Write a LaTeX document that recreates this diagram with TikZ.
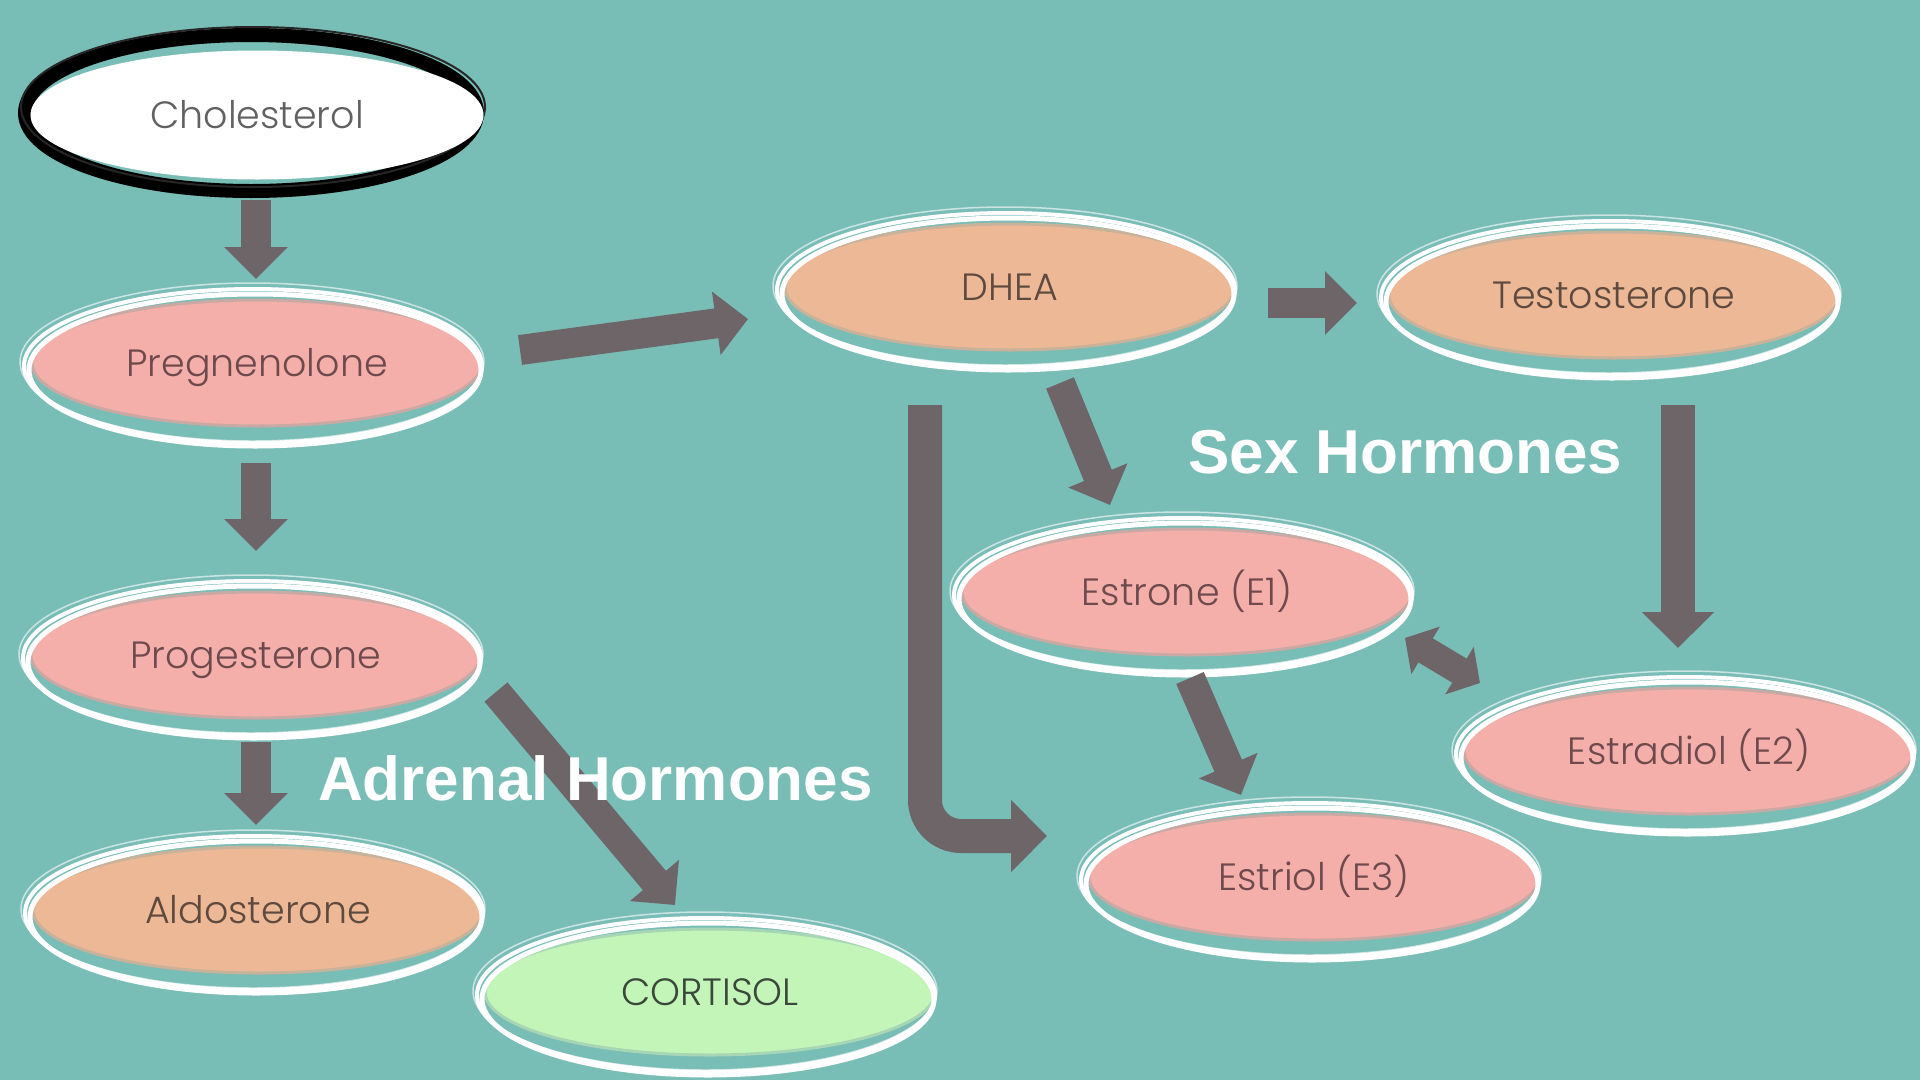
\documentclass[tikz,border=0pt]{standalone}
\usepackage{fontspec}
\IfFontExistsTF{Poppins Light}{\setmainfont{Poppins Light}}{\setmainfont{Poppins}}
\newfontfamily\titlefont{Liberation Sans}
\usetikzlibrary{arrows.meta,shapes.geometric}
\definecolor{bgteal}{HTML}{79BDB7}
\definecolor{pinkfill}{HTML}{F4AFAA}
\definecolor{pinkedge}{HTML}{C9A9A4}
\definecolor{pinktext}{HTML}{6E4A4D}
\definecolor{peachfill}{HTML}{EDB896}
\definecolor{peachedge}{HTML}{C8B29A}
\definecolor{peachtext}{HTML}{5E4A3F}
\definecolor{greenfill}{HTML}{C3F5B8}
\definecolor{greenedge}{HTML}{A6D6B4}
\definecolor{greentext}{HTML}{3A483A}
\definecolor{arrowgray}{HTML}{6D6567}
\pgfdeclarelayer{bg}
\pgfsetlayers{bg,main}
\tikzset{
  hnode/.style={ellipse, minimum width=450pt, minimum height=126pt, inner sep=0pt, outer sep=0pt,
    line width=3pt, text height=27pt, text depth=0pt, font=\fontsize{38}{40}\selectfont},
  pinknode/.style={hnode, fill=pinkfill, draw=pinkedge, text=pinktext},
  peachnode/.style={hnode, fill=peachfill, draw=peachedge, text=peachtext},
  greennode/.style={hnode, fill=greenfill, draw=greenedge, text=greentext},
  whitenode/.style={hnode, fill=white, draw=white, text=black!62},
  blk/.style={draw=arrowgray, line width=30pt, -{Triangle[width=62pt,length=32pt]}},
  wideblk/.style={draw=arrowgray, line width=34pt, -{Triangle[width=70pt,length=36pt]}},
  dblblk/.style={draw=arrowgray, line width=28pt, {Triangle[width=54pt,length=24pt]}-{Triangle[width=54pt,length=24pt]}},
  titlelbl/.style={font=\titlefont\bfseries\fontsize{62}{64}\selectfont, text=white, inner sep=0pt, anchor=base west},
}
\newcommand\wring[1]{%
  \draw[white, line width=4pt] ([shift={(-4,3)}]#1.center) ellipse [x radius=229pt, y radius=77pt];
  \draw[white, line width=5pt] ([shift={(-2,7)}]#1.center) ellipse [x radius=226pt, y radius=76pt];
  \draw[white, line width=1.5pt, opacity=0.6] ([shift={(-5,-1)}]#1.center) ellipse [x radius=232pt, y radius=79pt];
}
\begin{document}
\begin{tikzpicture}[x=1pt,y=-1pt]
\begin{pgfonlayer}{bg}
  \fill[bgteal] (0,0) rectangle (1920,1080);
\end{pgfonlayer}
\useasboundingbox (0,0) rectangle (1920,1080);

% nodes
\node[whitenode] (chol) at (257,115) {Cholesterol};
\node[pinknode] (preg) at (257,363) {Pregnenolone};
\node[pinknode] (prog) at (256,655) {Progesterone};
\node[peachnode] (aldo) at (258,910) {Aldosterone};
\node[greennode] (cort) at (710,992) {CORTISOL};
\node[peachnode] (dhea) at (1010,287) {DHEA};
\node[peachnode] (test) at (1614,295) {Testosterone};
\node[pinknode] (estrone) at (1187,592) {Estrone (E1)};
\node[pinknode] (estriol) at (1314,877) {Estriol (E3)};
\node[pinknode] (estradiol) at (1689,751) {Estradiol (E2)};

% black brush ring round Cholesterol (behind its fill)
\begin{pgfonlayer}{bg}
  \draw[black, line width=14pt] ([shift={(-6,-2)}]chol.center) ellipse [x radius=226pt, y radius=78pt];
  \draw[black!85, line width=2pt] ([shift={(-4,-8)}]chol.center) ellipse [x radius=232pt, y radius=80pt];
\end{pgfonlayer}

% white brush rings
\wring{preg}
\wring{prog}
\wring{aldo}
\wring{cort}
\wring{dhea}
\wring{test}
\wring{estrone}
\wring{estriol}
\wring{estradiol}

% connectors
\draw[blk] ([shift={(-1,85)}]chol.center) -- ([shift={(-1,-84)}]preg.center);
\draw[blk] ([shift={(-1,100)}]preg.center) -- ([shift={(0,-104)}]prog.center);
\draw[blk] ([shift={(0,87)}]prog.center) -- ([shift={(-2,-85)}]aldo.center);
\draw[blk] ([shift={(240,37)}]prog.center) -- ([shift={(-35,-87)}]cort.center);
\draw[blk] ([shift={(263,-13)}]preg.center) -- ([shift={(-262,32)}]dhea.center);
\draw[blk] ([shift={(258,16)}]dhea.center) -- ([shift={(-257,8)}]test.center);
\draw[blk] ([shift={(50,96)}]dhea.center) -- ([shift={(-77,-87)}]estrone.center);
\draw[blk] ([shift={(3,86)}]estrone.center) -- ([shift={(-73,-82)}]estriol.center);
\draw[wideblk] ([shift={(64,110)}]test.center) -- ([shift={(-11,-103)}]estradiol.center);
\draw[dblblk] ([shift={(218,46)}]estrone.center) -- ([shift={(-209,-68)}]estradiol.center);
\draw[wideblk, rounded corners=36pt] ([shift={(-85,118)}]dhea.center) |- ([shift={(-267,-41)}]estriol.center);

% group labels
\node[titlelbl] (sexlbl) at (1188,473) {Sex Hormones};
\node[titlelbl] (adrlbl) at (318,800) {Adrenal Hormones};
\end{tikzpicture}
\end{document}
